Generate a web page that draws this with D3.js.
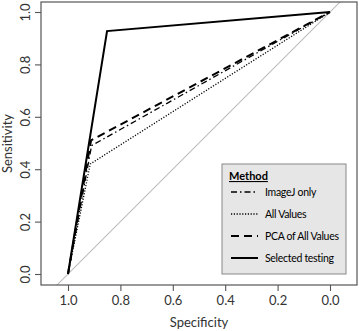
<!DOCTYPE html>
<html><head><meta charset="utf-8">
<script src="https://cdn.jsdelivr.net/npm/d3@7"></script>
<style>body{margin:0;background:#fff}svg{display:block}</style>
</head><body>
<script>
const methods = ["ImageJ only", "All Values", "PCA of All Values", "Selected testing"];
const specificity = {
  "ImageJ only":       [1.0, 0.91, 0.0],
  "All Values":        [1.0, 0.915, 0.0],
  "PCA of All Values": [1.0, 0.912, 0.0],
  "Selected testing":  [1.0, 0.851, 0.0]
};
const sensitivity = {
  "ImageJ only":       [0.0, 0.49, 1.0],
  "All Values":        [0.0, 0.42, 1.0],
  "PCA of All Values": [0.0, 0.51, 1.0],
  "Selected testing":  [0.0, 0.927, 1.0]
};
const xTicks = [1.0, 0.8, 0.6, 0.4, 0.2, 0.0];
const yTicks = [0.0, 0.2, 0.4, 0.6, 0.8, 1.0];
const styles = {
  "ImageJ only":       {dash: "6,3,1.5,3", w: 1.3},
  "All Values":        {dash: "1.2,1.6", w: 1.3},
  "PCA of All Values": {dash: "8,5", w: 2},
  "Selected testing":  {dash: null, w: 2}
};

const W = 359, H = 331;
const box = {l: 41, r: 357, t: 2, b: 285};
const x = d3.scaleLinear().domain([1, 0]).range([68, 330]);
const y = d3.scaleLinear().domain([0, 1]).range([274, 12]);
const font = "Lato, 'Open Sans', sans-serif";

const svg = d3.select("body").append("svg").attr("width", W).attr("height", H);
svg.append("defs").append("clipPath").attr("id", "clip")
  .append("rect").attr("x", box.l).attr("y", box.t).attr("width", box.r - box.l).attr("height", box.b - box.t);

// diagonal reference line sens = 1 - spec
const s0 = x.invert(box.l), s1 = x.invert(box.r);
svg.append("line").attr("clip-path", "url(#clip)")
  .attr("x1", x(s0)).attr("y1", y(1 - s0)).attr("x2", x(s1)).attr("y2", y(1 - s1))
  .attr("stroke", "#bdbdbd").attr("stroke-width", 1.1);

const line = d3.line().x(d => x(d[0])).y(d => y(d[1]));
methods.forEach(m => {
  const pts = specificity[m].map((s, i) => [s, sensitivity[m][i]]);
  svg.append("path").attr("d", line(pts)).attr("fill", "none")
    .attr("stroke", "#000").attr("stroke-width", styles[m].w)
    .attr("stroke-dasharray", styles[m].dash);
});

// box
svg.append("rect").attr("x", box.l).attr("y", box.t).attr("width", box.r - box.l).attr("height", box.b - box.t)
  .attr("fill", "none").attr("stroke", "#555").attr("stroke-width", 1.2);

// axes
const gx = svg.append("g").attr("transform", `translate(0,${box.b})`)
  .call(d3.axisBottom(x).tickValues(xTicks).tickFormat(d3.format(".1f")).tickSize(6).tickSizeOuter(0).tickPadding(5));
const gy = svg.append("g").attr("transform", `translate(${box.l},0)`)
  .call(d3.axisLeft(y).tickValues(yTicks).tickFormat(d3.format(".1f")).tickSize(6).tickSizeOuter(0).tickPadding(4));
[gx, gy].forEach(g => {
  g.select(".domain").remove();
  g.selectAll("line").attr("stroke", "#555").attr("stroke-width", 1.1);
  g.selectAll("text").attr("font-family", font).attr("font-size", 13).attr("fill", "#333");
});
gy.selectAll(".tick text").attr("text-anchor", "middle").attr("x", null).attr("dy", null)
  .attr("transform", "translate(-16,0) rotate(-90)").attr("dy", "0.35em");

svg.append("text").attr("x", (box.l + box.r) / 2).attr("y", 327).attr("text-anchor", "middle")
  .attr("font-family", font).attr("font-size", 13).attr("fill", "#333").text("Specificity");
svg.append("text").attr("transform", `translate(12,${(box.t + box.b) / 2}) rotate(-90)`).attr("text-anchor", "middle")
  .attr("font-family", font).attr("font-size", 13).attr("fill", "#333").text("Sensitivity");

// legend
const lg = svg.append("g");
lg.append("rect").attr("x", 222).attr("y", 164).attr("width", 124).attr("height", 110)
  .attr("fill", "#e6e6e6").attr("stroke", "#888").attr("stroke-width", 1);
lg.append("text").attr("x", 229).attr("y", 180).attr("font-family", font).attr("font-size", 11)
  .attr("font-weight", "bold").attr("text-decoration", "underline").attr("fill", "#000").text("Method");
const rowY = d3.scaleLinear().domain([0, 3]).range([192, 258]);
methods.forEach((m, i) => {
  lg.append("line").attr("x1", 231).attr("x2", 258).attr("y1", rowY(i)).attr("y2", rowY(i))
    .attr("stroke", "#000").attr("stroke-width", styles[m].w).attr("stroke-dasharray", styles[m].dash);
  lg.append("text").attr("x", 265).attr("y", rowY(i)).attr("dy", "0.35em")
    .attr("font-family", font).attr("font-size", 10.5).attr("letter-spacing", "-0.3px")
    .attr("fill", "#000").text(m);
});
</script>
</body></html>
